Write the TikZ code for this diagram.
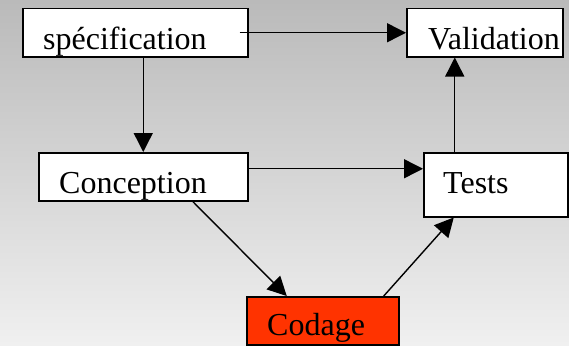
\documentclass[tikz,border=0pt]{standalone}
\usepackage{fontspec}
\setmainfont{Liberation Serif}
\usetikzlibrary{arrows.meta,calc}
\definecolor{bgtop}{RGB}{186,186,186}
\definecolor{bgbot}{RGB}{240,240,240}
\definecolor{codred}{RGB}{255,51,0}
\tikzset{
  box/.style={draw=black,line width=1.5pt,fill=white,inner sep=0pt,anchor=north west},
  lbl/.style={anchor=base west,inner sep=0pt,font=\fontsize{32}{32}\selectfont},
  conn/.style={line width=1.4pt,-{Triangle[length=19pt,width=19pt]}},
  plain/.style={line width=1.4pt}
}
\begin{document}
\begin{tikzpicture}[x=1pt,y=-1pt]
\useasboundingbox (0,0) rectangle (569,345);
\clip (0,0) rectangle (569,345);
\shade[top color=bgtop,bottom color=bgbot] (0,0) rectangle (569,345);
% boxes
\node[box,minimum width=225pt,minimum height=48pt] (spec) at (22,8) {};
\node[box,minimum width=156pt,minimum height=48pt] (valid) at (406,8) {};
\node[box,minimum width=209pt,minimum height=48pt] (conc) at (38,152) {};
\node[box,minimum width=144pt,minimum height=64pt] (tests) at (423,152) {};
\node[box,fill=codred,minimum width=152pt,minimum height=48pt] (cod) at (246,296) {};
% labels
\node[lbl] (tspec) at (43,49) {spécification};
\node[lbl] (tvalid) at (428,49) {Validation};
\node[lbl] (tconc) at (59,193) {Conception};
\node[lbl] (ttests) at (443,193) {Tests};
\node[lbl] (tcod) at (267,335) {Codage};
% connectors
\draw[conn] ([xshift=-9pt]spec.east) -- (valid.west);
\draw[conn] (conc.north |- spec.south) -- (conc.north);
\draw[conn] ([yshift=8pt]conc.east) -- ([yshift=8pt]conc.east -| tests.west);
\draw[conn] ([xshift=-41pt]tests.north) -- ([xshift=-41pt]tests.north |- valid.south);
\draw[conn] ([xshift=49.5pt]conc.south) -- ([xshift=-36pt]cod.north);
\draw[conn] ([xshift=61pt]cod.north) -- ([xshift=-42pt]tests.south);
\end{tikzpicture}
\end{document}
